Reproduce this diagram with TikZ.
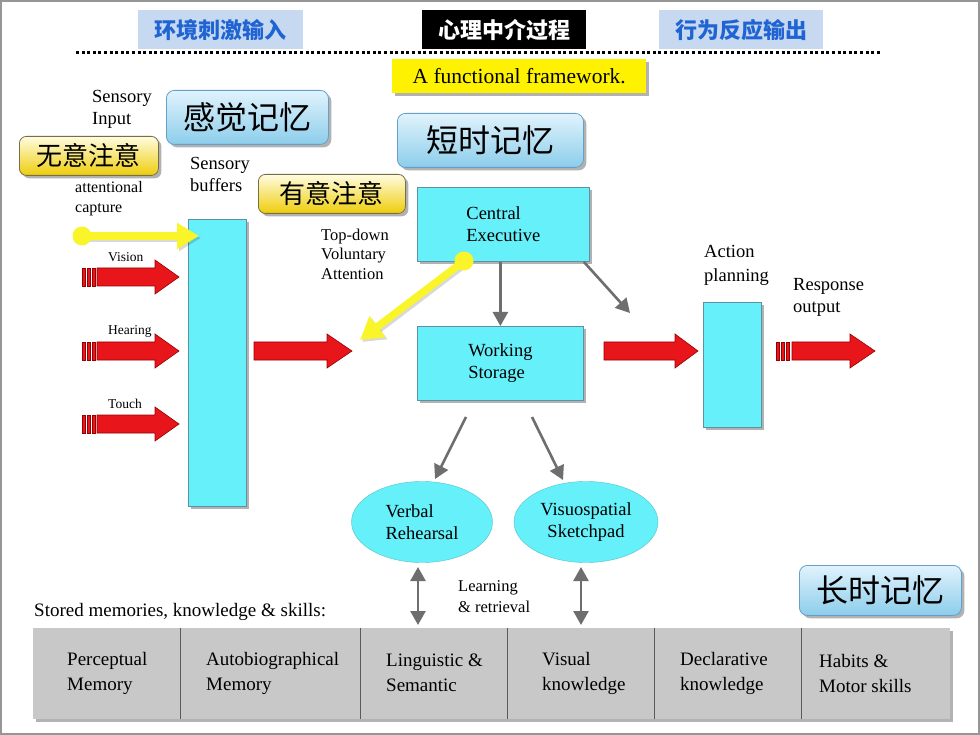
\documentclass[tikz,border=0pt]{standalone}
\usepackage{fontspec}
\setmainfont{Liberation Serif}
\newfontfamily\cjk{Noto Sans CJK SC}
\usetikzlibrary{arrows.meta,shapes.geometric,shadows}
\definecolor{framec}{RGB}{150,150,150}
\definecolor{hdrfill}{RGB}{198,217,241}
\definecolor{hdrtext}{RGB}{31,100,210}
\definecolor{cyanc}{RGB}{102,240,250}
\definecolor{cyanb}{RGB}{95,145,165}
\definecolor{btop}{RGB}{225,243,253}
\definecolor{bbot}{RGB}{140,205,235}
\definecolor{bbord}{RGB}{100,160,200}
\definecolor{ytop}{RGB}{255,252,225}
\definecolor{ybot}{RGB}{238,205,10}
\definecolor{ybord}{RGB}{120,110,70}
\definecolor{redc}{RGB}{232,22,26}
\definecolor{redd}{RGB}{150,0,0}
\definecolor{ycol}{RGB}{250,245,40}
\definecolor{garc}{RGB}{110,110,110}
\definecolor{boxgray}{RGB}{200,200,200}
\definecolor{divc}{RGB}{90,90,90}
\newcommand\fs[2]{\fontsize{#1}{#2}\selectfont}
\newcommand\blockarrow[4]{%
  \fill[redc, draw=redd, line width=0.6pt]
    (#1,#4-9) -- (#2,#4-9) -- (#2,#4-17) -- (#3,#4) -- (#2,#4+17)
    -- (#2,#4+9) -- (#1,#4+9) -- cycle;}
\newcommand\stripes[2]{%
  \fill[redc, draw=redd, line width=0.4pt] (#1,#2-9) rectangle (#1+3,#2+9);
  \fill[redc, draw=redd, line width=0.4pt] (#1+5,#2-9) rectangle (#1+8,#2+9);
  \fill[redc, draw=redd, line width=0.4pt] (#1+10,#2-9) rectangle (#1+13,#2+9);}
\begin{document}
\begin{tikzpicture}[x=1pt,y=-1pt,
  myshadow/.style={drop shadow={shadow xshift=3pt,shadow yshift=-3pt,fill=black,opacity=0.3}},
  hdr/.style={anchor=north west, inner sep=0, minimum height=39pt, font=\cjk\bfseries\fs{22}{26}},
  cbox/.style={anchor=north west, fill=cyanc, draw=cyanb, line width=0.8pt, inner sep=0,
    align=left, font=\fs{18.5}{22}, myshadow},
  cell/.style={ellipse, fill=cyanc, draw=cyanc!80!black, line width=0.4pt, inner sep=0,
    font=\fs{18.5}{22}},
  bbox/.style={anchor=north west, rounded corners=8pt, draw=bbord, line width=0.8pt,
    top color=btop, bottom color=bbot, font=\cjk\fs{32}{36}, inner sep=0, myshadow},
  ybox/.style={anchor=north west, rounded corners=7pt, draw=ybord, line width=0.8pt,
    top color=ytop, bottom color=ybot, font=\cjk\fs{26}{30}, inner sep=0, myshadow},
  lbl/.style={anchor=west, inner sep=0, align=left},
  cellt/.style={anchor=west, inner sep=0, align=left, font=\fs{19}{25}},
  garrow/.style={draw=garc, line width=2.6pt, -{Triangle[length=14pt,width=15pt]}},
  gdarrow/.style={draw=garc, line width=2.6pt, {Triangle[length=14pt,width=15pt]}-{Triangle[length=14pt,width=15pt]}},
  yarrow/.style={draw=ycol, line width=7.5pt, -{Triangle[length=22pt,width=25pt]}},
  yshad/.style={draw=black, opacity=0.15, line width=7.5pt, -{Triangle[length=22pt,width=25pt]}}
]
\useasboundingbox (0,0) rectangle (980,735);
\fill[white] (0,0) rectangle (980,735);
\draw[framec, line width=2pt] (1,1) rectangle (979,734);

% headers
\node[hdr, fill=hdrfill, text=hdrtext, minimum width=165pt] (h1) at (138,10) {环境刺激输入};
\node[hdr, fill=black, text=white, minimum width=164pt] (h2) at (422,10) {心理中介过程};
\node[hdr, fill=hdrfill, text=hdrtext, minimum width=164pt] (h3) at (659,10) {行为反应输出};
\draw[line width=3pt, dash pattern=on 3pt off 2.6pt] (76,53) -- (880,53);

% framework label
\node[anchor=north west, fill=yellow, minimum width=254pt, minimum height=34pt, inner sep=0,
  font=\fs{21.5}{24}, myshadow] (fw) at (392,59) {A functional framework.};

% texts
\node[lbl, font=\fs{18.5}{22}] (si) at (92,109) {Sensory\\Input};
\node[lbl, font=\fs{16}{20}] (ac) at (75,199) {attentional\\capture};
\node[lbl, font=\fs{18.5}{22}] (sbt) at (190,174) {Sensory\\buffers};
\node[lbl, font=\fs{16.5}{19.5}] (td) at (321,254) {Top-down\\Voluntary\\Attention};
\node[lbl, font=\fs{18.5}{24}] (apt) at (704,265) {Action\\planning};
\node[lbl, font=\fs{18.5}{22}] (ro) at (793,297) {Response\\output};
\node[lbl, font=\fs{13.5}{15}] (vis) at (108,257) {Vision};
\node[lbl, font=\fs{13.5}{15}] (hea) at (108,331) {Hearing};
\node[lbl, font=\fs{13.5}{15}] (tou) at (108,404) {Touch};
\node[lbl, font=\fs{16.5}{21}] (lr) at (458,597) {Learning\\\& retrieval};
\node[lbl, font=\fs{19}{20}] (sm) at (34,612) {Stored memories, knowledge \& skills:};

% cyan boxes
\node[cbox, minimum width=58pt, minimum height=287pt] (sb) at (188,219) {};
\node[cbox, minimum width=172pt, minimum height=74pt, align=left] (ce) at (417,187) {Central\\Executive};
\node[cbox, minimum width=166pt, minimum height=74pt, align=left] (ws) at (417,326) {Working\\Storage};
\node[cbox, minimum width=58pt, minimum height=125pt] (ap) at (703,302) {};
\node[cell, minimum width=141pt, minimum height=81pt, align=left] (vr) at (422,522) {Verbal\\Rehearsal};
\node[cell, minimum width=144pt, minimum height=81pt, align=center] (vs) at (586,522) {Visuospatial\\Sketchpad};

% rounded labels
\node[bbox, minimum width=162pt, minimum height=54pt] (sm1) at (166,90) {感觉记忆};
\node[bbox, minimum width=186pt, minimum height=54pt] (stm) at (397,113) {短时记忆};
\node[bbox, minimum width=162pt, minimum height=50pt] (ltm) at (799,565) {长时记忆};
\node[ybox, minimum width=139pt, minimum height=39pt] (wu) at (19,136) {无意注意};
\node[ybox, minimum width=147pt, minimum height=39pt] (yy) at (258,174) {有意注意};

% red block arrows
\stripes{82}{277}\blockarrow{97}{155}{179}{277}
\stripes{82}{351}\blockarrow{97}{155}{179}{351}
\stripes{82}{424}\blockarrow{97}{155}{179}{424}
\blockarrow{254}{327}{352}{351}
\blockarrow{604}{675}{698}{351}
\stripes{776}{351}\blockarrow{792}{850}{875}{351}

% yellow arrows
\coordinate (y1s) at (82,236);
\coordinate (y1e) at (199,236);
\coordinate (y2s) at (464,261);
\coordinate (y2e) at (360,340);
\draw[yshad] ([shift={(2,2)}]y1s) -- ([shift={(2,2)}]y1e);
\draw[yshad] ([shift={(2,2)}]y2s) -- ([shift={(2,2)}]y2e);
\draw[yarrow] (y1s) -- (y1e);
\draw[yarrow] (y2s) -- (y2e);
\fill[ycol] (y1s) circle (9.5pt);
\fill[ycol] (y2s) circle (9.5pt);

% gray arrows
\coordinate (g2e) at (630,313);
\coordinate (g3s) at (466,417);
\coordinate (g3e) at (435,479);
\coordinate (g4s) at (532,417);
\coordinate (g4e) at (563,480);
\draw[garrow] (ws.north |- ce.south) -- (ws.north);
\draw[garrow] ([xshift=-6pt]ce.south east) -- (g2e);
\draw[garrow] (g3s) -- (g3e);
\draw[garrow] (g4s) -- (g4e);
\coordinate (d1s) at (418,567);
\coordinate (d1e) at (418,625);
\coordinate (d2s) at (581,567);
\coordinate (d2e) at (581,625);
\draw[gdarrow] (d1s) -- (d1e);
\draw[gdarrow] (d2s) -- (d2e);

% long-term memory boxes
\node[anchor=north west, fill=boxgray, minimum width=917pt, minimum height=91pt, inner sep=0, myshadow] (mem) at (33,628) {};
\foreach \xx in {180,360,507,654,801}
  \draw[divc, line width=1pt] (\xx,628) -- (\xx,719);
\node[cellt] (m1) at (67,673) {Perceptual\\Memory};
\node[cellt] (m2) at (206,673) {Autobiographical\\Memory};
\node[cellt] (m3) at (386,673) {Linguistic \&\\Semantic};
\node[cellt] (m4) at (542,673) {Visual\\knowledge};
\node[cellt] (m5) at (680,673) {Declarative\\knowledge};
\node[cellt] (m6) at (819,673) {Habits \&\\Motor skills};
\end{tikzpicture}
\end{document}
